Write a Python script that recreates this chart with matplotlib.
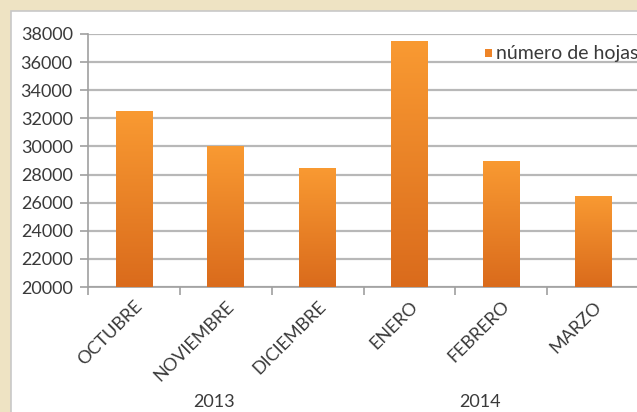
import numpy as np
import matplotlib.pyplot as plt
from matplotlib.patches import Rectangle
from matplotlib.colors import LinearSegmentedColormap

# data
meses = ['OCTUBRE', 'NOVIEMBRE', 'DICIEMBRE', 'ENERO', 'FEBRERO', 'MARZO']
hojas = [32500, 30000, 28500, 37500, 29000, 26500]
anios = ['2013', '2014']
yticks = list(range(20000, 38001, 2000))

plt.rcParams['font.family'] = ['Lato', 'DejaVu Sans']
gris = '#3A3A3A'

fig = plt.figure(figsize=(6.37, 4.12), dpi=100)
fig.patch.set_facecolor('#EEE3C3')

# white chart panel with a thin border
fig.patches.append(Rectangle((11 / 637, -0.1), 1.1, 1.1 - 11 / 412,
                             transform=fig.transFigure, facecolor='white',
                             edgecolor='#C8C8C8', linewidth=1.2, zorder=-1))

ax = fig.add_axes([88 / 637, 125 / 412, 551 / 637, 253 / 412])
ax.set_facecolor('none')
ax.set_zorder(1)

x = np.arange(len(meses))
ancho = 0.40
bars = ax.bar(x, hojas, width=ancho, color='#EE8428', zorder=2)

# vertical gradient on every bar
cmap = LinearSegmentedColormap.from_list('naranja', ['#DA6B1C', '#F99A32'])
grad = np.linspace(0, 1, 256).reshape(-1, 1)
for b in bars:
    x0, w, h = b.get_x(), b.get_width(), b.get_height()
    im = ax.imshow(grad, cmap=cmap, origin='lower', aspect='auto',
                   extent=[x0, x0 + w, 20000, h], zorder=3)
    im.set_clip_path(b)

ax.set_xlim(-0.5, len(meses) - 0.5)
ax.set_ylim(20000, 38000)
ax.set_yticks(yticks)
ax.set_yticklabels([str(v) for v in yticks], fontsize=13, color=gris)
ax.yaxis.grid(True, color='#B8B8B8', linewidth=1.6, zorder=1)
ax.set_axisbelow(True)

ax.set_xticks(np.arange(len(meses) + 1) - 0.5)
ax.set_xticklabels([])
ax.set_xticks(x, minor=True)
ax.set_xticklabels(meses, minor=True, rotation=45, ha='right', va='top',
                   rotation_mode='anchor', fontsize=13, color=gris)
ax.tick_params(axis='x', which='minor', length=0, pad=8)
ax.tick_params(axis='x', which='major', length=6, color='#A0A0A0', width=1.2)
ax.tick_params(axis='y', length=6, color='#A0A0A0', width=1.2, pad=5)

for s in ['top', 'right']:
    ax.spines[s].set_visible(False)
for s in ['left', 'bottom']:
    ax.spines[s].set_color('#A0A0A0')
    ax.spines[s].set_linewidth(1.2)

# year labels under the month groups
ax.text(0.87, -0.455, anios[0], transform=ax.get_xaxis_transform(),
        ha='center', va='center', fontsize=13, color=gris)
ax.text(3.77, -0.455, anios[1], transform=ax.get_xaxis_transform(),
        ha='center', va='center', fontsize=13, color=gris)

# legend
fig.patches.append(Rectangle((485 / 637, 1 - 57 / 412), 7 / 637, 8 / 412,
                             transform=fig.transFigure, facecolor='#EE8428',
                             zorder=5))
fig.text(496 / 637, 1 - 53 / 412, 'número de hojas', fontsize=14, color=gris,
         ha='left', va='center')

fig.savefig('out.png', dpi=100, facecolor=fig.get_facecolor())
